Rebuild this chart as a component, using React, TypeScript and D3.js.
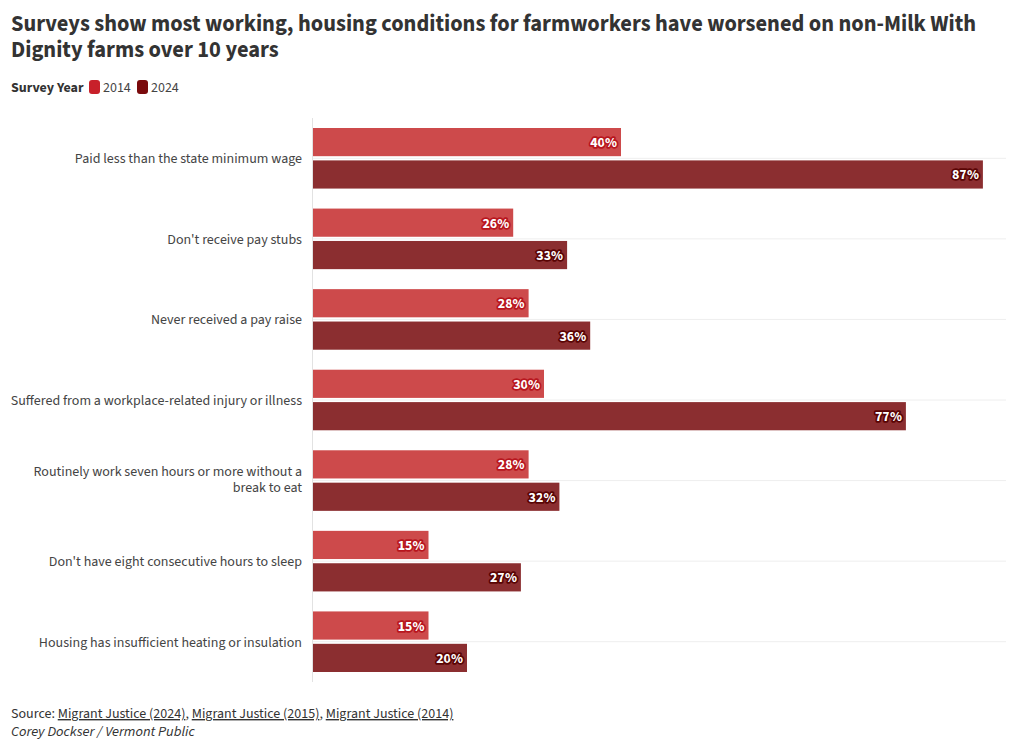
import React from "react";
import * as d3 from "d3";

const categories = [
  ["Paid less than the state minimum wage"],
  ["Don't receive pay stubs"],
  ["Never received a pay raise"],
  ["Suffered from a workplace-related injury or illness"],
  ["Routinely work seven hours or more without a", "break to eat"],
  ["Don't have eight consecutive hours to sleep"],
  ["Housing has insufficient heating or insulation"],
];
const years = ["2014", "2024"];
const values2014 = [40, 26, 28, 30, 28, 15, 15];
const values2024 = [87, 33, 36, 77, 32, 27, 20];

const W = 1020;
const H = 750;
const FONT = "'Source Sans Pro', 'Source Sans 3', Lato, 'Noto Sans', sans-serif";

export default function App() {
  const x0 = 313;
  const x = d3.scaleLinear().domain([0, 90]).range([x0, 1006]);
  const y = d3
    .scaleBand<number>()
    .domain(d3.range(categories.length))
    .range([118, 682])
    .paddingInner(0)
    .paddingOuter(0);
  const inner = d3
    .scaleBand<string>()
    .domain(years)
    .range([10, y.bandwidth() - 10])
    .paddingInner(0.13);
  const barFill = ["#cd4a4b", "#8b2e30"];
  const haloFill = ["#b8161e", "#5a0404"];
  const legendFill = ["#c8202a", "#7a0a0c"];
  const series = [values2014, values2024];

  return (
    <svg
      width={W}
      height={H}
      style={{ position: "absolute", left: 0, top: 0, fontFamily: FONT }}
    >
      <rect width={W} height={H} fill="#fff" />
      <text x={11} y={31} fontSize={22.4} fontWeight={700} fill="#333">
        Surveys show most working, housing conditions for farmworkers have worsened on non-Milk With
      </text>
      <text x={11} y={57} fontSize={22.4} fontWeight={700} fill="#333">
        Dignity farms over 10 years
      </text>
      <g fontSize={14}>
        <text x={11} y={92} fontWeight={700} fill="#333">
          Survey Year
        </text>
        {years.map((yr, i) => {
          const lx = i === 0 ? 89 : 137;
          return (
            <g key={yr}>
              <rect x={lx} y={80} width={11} height={14} rx={3} fill={legendFill[i]} />
              <text x={lx + 14} y={92} fill="#444">
                {yr}
              </text>
            </g>
          );
        })}
      </g>
      {categories.map((_, i) => {
        const cy = (y(i) as number) + y.bandwidth() / 2;
        return (
          <line key={"g" + i} x1={x0} x2={1006} y1={cy} y2={cy} stroke="#eee" strokeWidth={1} />
        );
      })}
      <line x1={x0 - 0.5} x2={x0 - 0.5} y1={118} y2={682} stroke="#e2e2e2" />
      {categories.map((lines, i) => {
        const cy = (y(i) as number) + y.bandwidth() / 2;
        const startY = cy + 5 - ((lines.length - 1) * 16) / 2 - (lines.length > 1 ? 2 : 0);
        return (
          <text key={"c" + i} x={302} textAnchor="end" fontSize={14} fill="#444">
            {lines.map((l, j) => (
              <tspan key={j} x={302} y={startY + j * 16}>
                {l}
              </tspan>
            ))}
          </text>
        );
      })}
      {categories.map((_, i) =>
        years.map((yr, s) => {
          const v = series[s][i];
          const by = (y(i) as number) + (inner(yr) as number);
          const bh = inner.bandwidth();
          const xe = x(v);
          return (
            <g key={i + yr}>
              <rect x={x0} y={by} width={xe - x0} height={bh} fill={barFill[s]} />
              <text
                x={xe - 4}
                y={by + bh / 2 + 5}
                textAnchor="end"
                fontSize={14}
                fontWeight={700}
                fill="#fff"
                stroke={haloFill[s]}
                strokeWidth={3.5}
                strokeLinejoin="round"
                style={{ paintOrder: "stroke" }}
              >
                {v}%
              </text>
            </g>
          );
        })
      )}
      <g fontSize={14} fill="#333">
        <text x={11} y={718}>
          Source:{" "}
          <tspan textDecoration="underline">Migrant Justice (2024)</tspan>,{" "}
          <tspan textDecoration="underline">Migrant Justice (2015)</tspan>,{" "}
          <tspan textDecoration="underline">Migrant Justice (2014)</tspan>
        </text>
        <text x={11} y={736} fontStyle="italic" fontSize={14.5}>
          Corey Dockser / Vermont Public
        </text>
      </g>
    </svg>
  );
}
